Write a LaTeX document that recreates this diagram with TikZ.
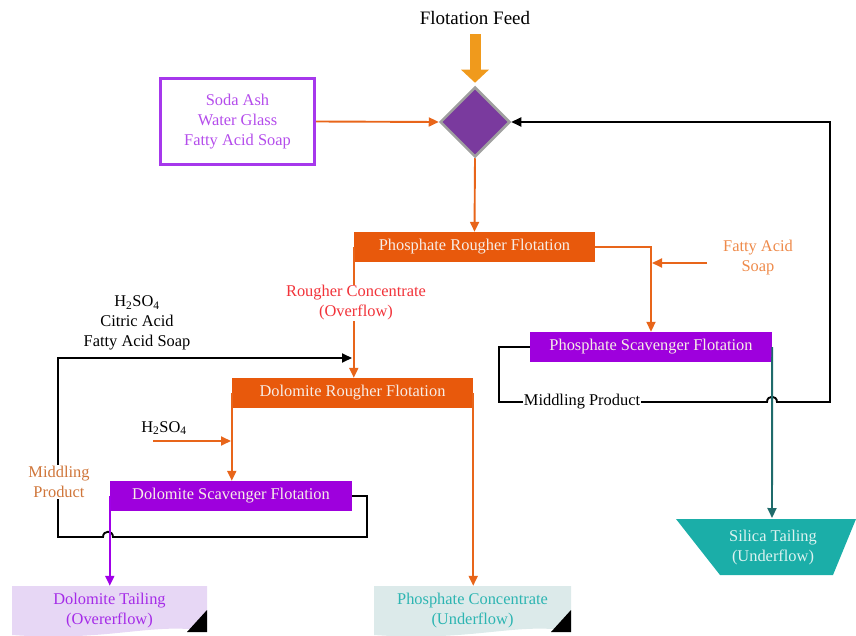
\documentclass[tikz,border=0pt]{standalone}
\usepackage{fontspec}
\setmainfont{Liberation Serif}
\usetikzlibrary{arrows.meta,shapes.geometric}
\definecolor{orF}{HTML}{E8590C}
\definecolor{orL}{HTML}{E8651A}
\definecolor{puF}{HTML}{9E00DD}
\definecolor{puL}{HTML}{A000E8}
\definecolor{diaF}{HTML}{7A3A9E}
\definecolor{diaB}{HTML}{A0A0A0}
\definecolor{feedC}{HTML}{F09A1C}
\definecolor{sodaC}{HTML}{A638EC}
\definecolor{sodaT}{HTML}{B44CEB}
\definecolor{redT}{HTML}{F2333A}
\definecolor{fasT}{HTML}{EE8A4A}
\definecolor{midT}{HTML}{D0763A}
\definecolor{tealL}{HTML}{1F6B6B}
\definecolor{silF}{HTML}{1BAEA8}
\definecolor{silT}{HTML}{DDF3F1}
\definecolor{dtF}{HTML}{E7D7F5}
\definecolor{dtT}{HTML}{A52BE8}
\definecolor{pcF}{HTML}{DCEAEA}
\definecolor{pcT}{HTML}{2DB5B2}
\definecolor{boxT}{HTML}{F7EDE6}
\begin{document}
\begin{tikzpicture}[x=1pt,y=-1pt,
  font=\fontsize{16.4}{20}\selectfont,
  flowarr/.style={line width=1.9pt,-{Triangle[length=10pt,width=9pt]}},
  procbox/.style={minimum height=30pt,inner sep=0pt,text=boxT},
  outbox/.style={minimum width=196pt,minimum height=49pt,inner sep=0pt,align=center},
  label/.style={align=center,inner sep=1pt}]
\useasboundingbox (0,0) rectangle (856,636);

% nodes
\node[font=\fontsize{19}{21}\selectfont] (feed) at (475,18) {Flotation Feed};
\node[diamond,fill=diaF,draw=diaB,line width=2.5pt,minimum width=70pt,minimum height=70pt,inner sep=0pt] (dia) at (475,122) {};
\node[draw=sodaC,line width=3pt,minimum width=154pt,minimum height=86pt,text=sodaT,align=center] (soda) at (237.5,121.5) {Soda Ash\\Water Glass\\Fatty Acid Soap};
\node[procbox,fill=orF,minimum width=241pt] (prf) at (474.5,247) {Phosphate Rougher Flotation};
\node[procbox,fill=puF,minimum width=242pt] (psf) at (651,347) {Phosphate Scavenger Flotation};
\node[procbox,fill=orF,minimum width=241pt] (drf) at (352.5,393) {Dolomite Rougher Flotation};
\node[procbox,fill=puF,minimum width=242pt] (dsf) at (231,496) {Dolomite Scavenger Flotation};
\node[label,text=fasT] (fas) at (758,258) {Fatty Acid\\Soap};
\node[label] (acid) at (137,323) {H\textsubscript{2}SO\textsubscript{4}\\Citric Acid\\Fatty Acid Soap};
\node[label] (h2) at (164,428) {H\textsubscript{2}SO\textsubscript{4}};

% output shapes
\fill[dtF] (12,586) -- (207,586) -- (207,631) .. controls (150,622) and (110,642) .. (12,635) -- cycle;
\fill[black] (207,610) -- (207,632) -- (187,632) -- cycle;
\node[outbox,text=dtT] (dtail) at (109.5,610.5) {Dolomite Tailing\\(Overerflow)};
\fill[pcF] (374,586) -- (571,586) -- (571,631) .. controls (514,622) and (474,642) .. (374,635) -- cycle;
\fill[black] (571,610) -- (571,632) -- (551,632) -- cycle;
\node[outbox,text=pcT] (pconc) at (472.5,610.5) {Phosphate Concentrate\\(Underflow)};
\fill[silF] (676,519) -- (856,519) -- (833,575) -- (720,575) -- cycle;
\node[label,text=silT] (silica) at (773,548) {Silica Tailing\\(Underflow)};

% coordinates
\coordinate (siltop) at (772,518);
\coordinate (fasA) at (707,263);
\coordinate (fasB) at (652,263);
\coordinate (hA) at (153,441);
\coordinate (hB) at (231,441);
\coordinate (j2) at (352,358);

% connectors
\draw[feedC,line width=11pt,-{Triangle[length=13pt,width=27pt]},shorten <=6pt,shorten >=3pt] (feed.south) -- (dia.north);
\draw[flowarr,orL] (soda.east) -- (dia.west);
\draw[flowarr,orL] (dia.south) -- (prf.north);
\draw[flowarr,orL] (prf.east) -| (psf.north);
\draw[flowarr,orL] (fasA) -- (fasB);
\draw[flowarr,black] (psf.west) -- (499,347) -- (499,402) -- (767,402)
   .. controls (767,395) and (777,395) .. (777,402) -- (830,402) -- (830,122) -- (dia.east);
\draw[flowarr,tealL] (psf.east) -- (siltop);
\draw[flowarr,orL] (prf.west) -- (prf.west |- drf.north);
\draw[flowarr,black] (dsf.east) -- (367,496) -- (367,537) -- (113,537)
   .. controls (113,530) and (103,530) .. (103,537) -- (58,537) -- (58,358) -- (j2);
\draw[flowarr,orL] (drf.west) -- (drf.west |- dsf.north);
\draw[flowarr,orL] (hA) -- (hB);
\draw[flowarr,orL] (drf.east) -- (drf.east |- pconc.north);
\draw[flowarr,puL] (dsf.west) -- (dsf.west |- dtail.north);

% labels over lines
\node[label,fill=white,text=redT] (rc) at (356,303) {Rougher Concentrate\\(Overflow)};
\node[label,fill=white,text=midT] (midL) at (59,482) {Middling\\Product};
\node[label,fill=white] (midR) at (582,402) {Middling Product};
\end{tikzpicture}
\end{document}
